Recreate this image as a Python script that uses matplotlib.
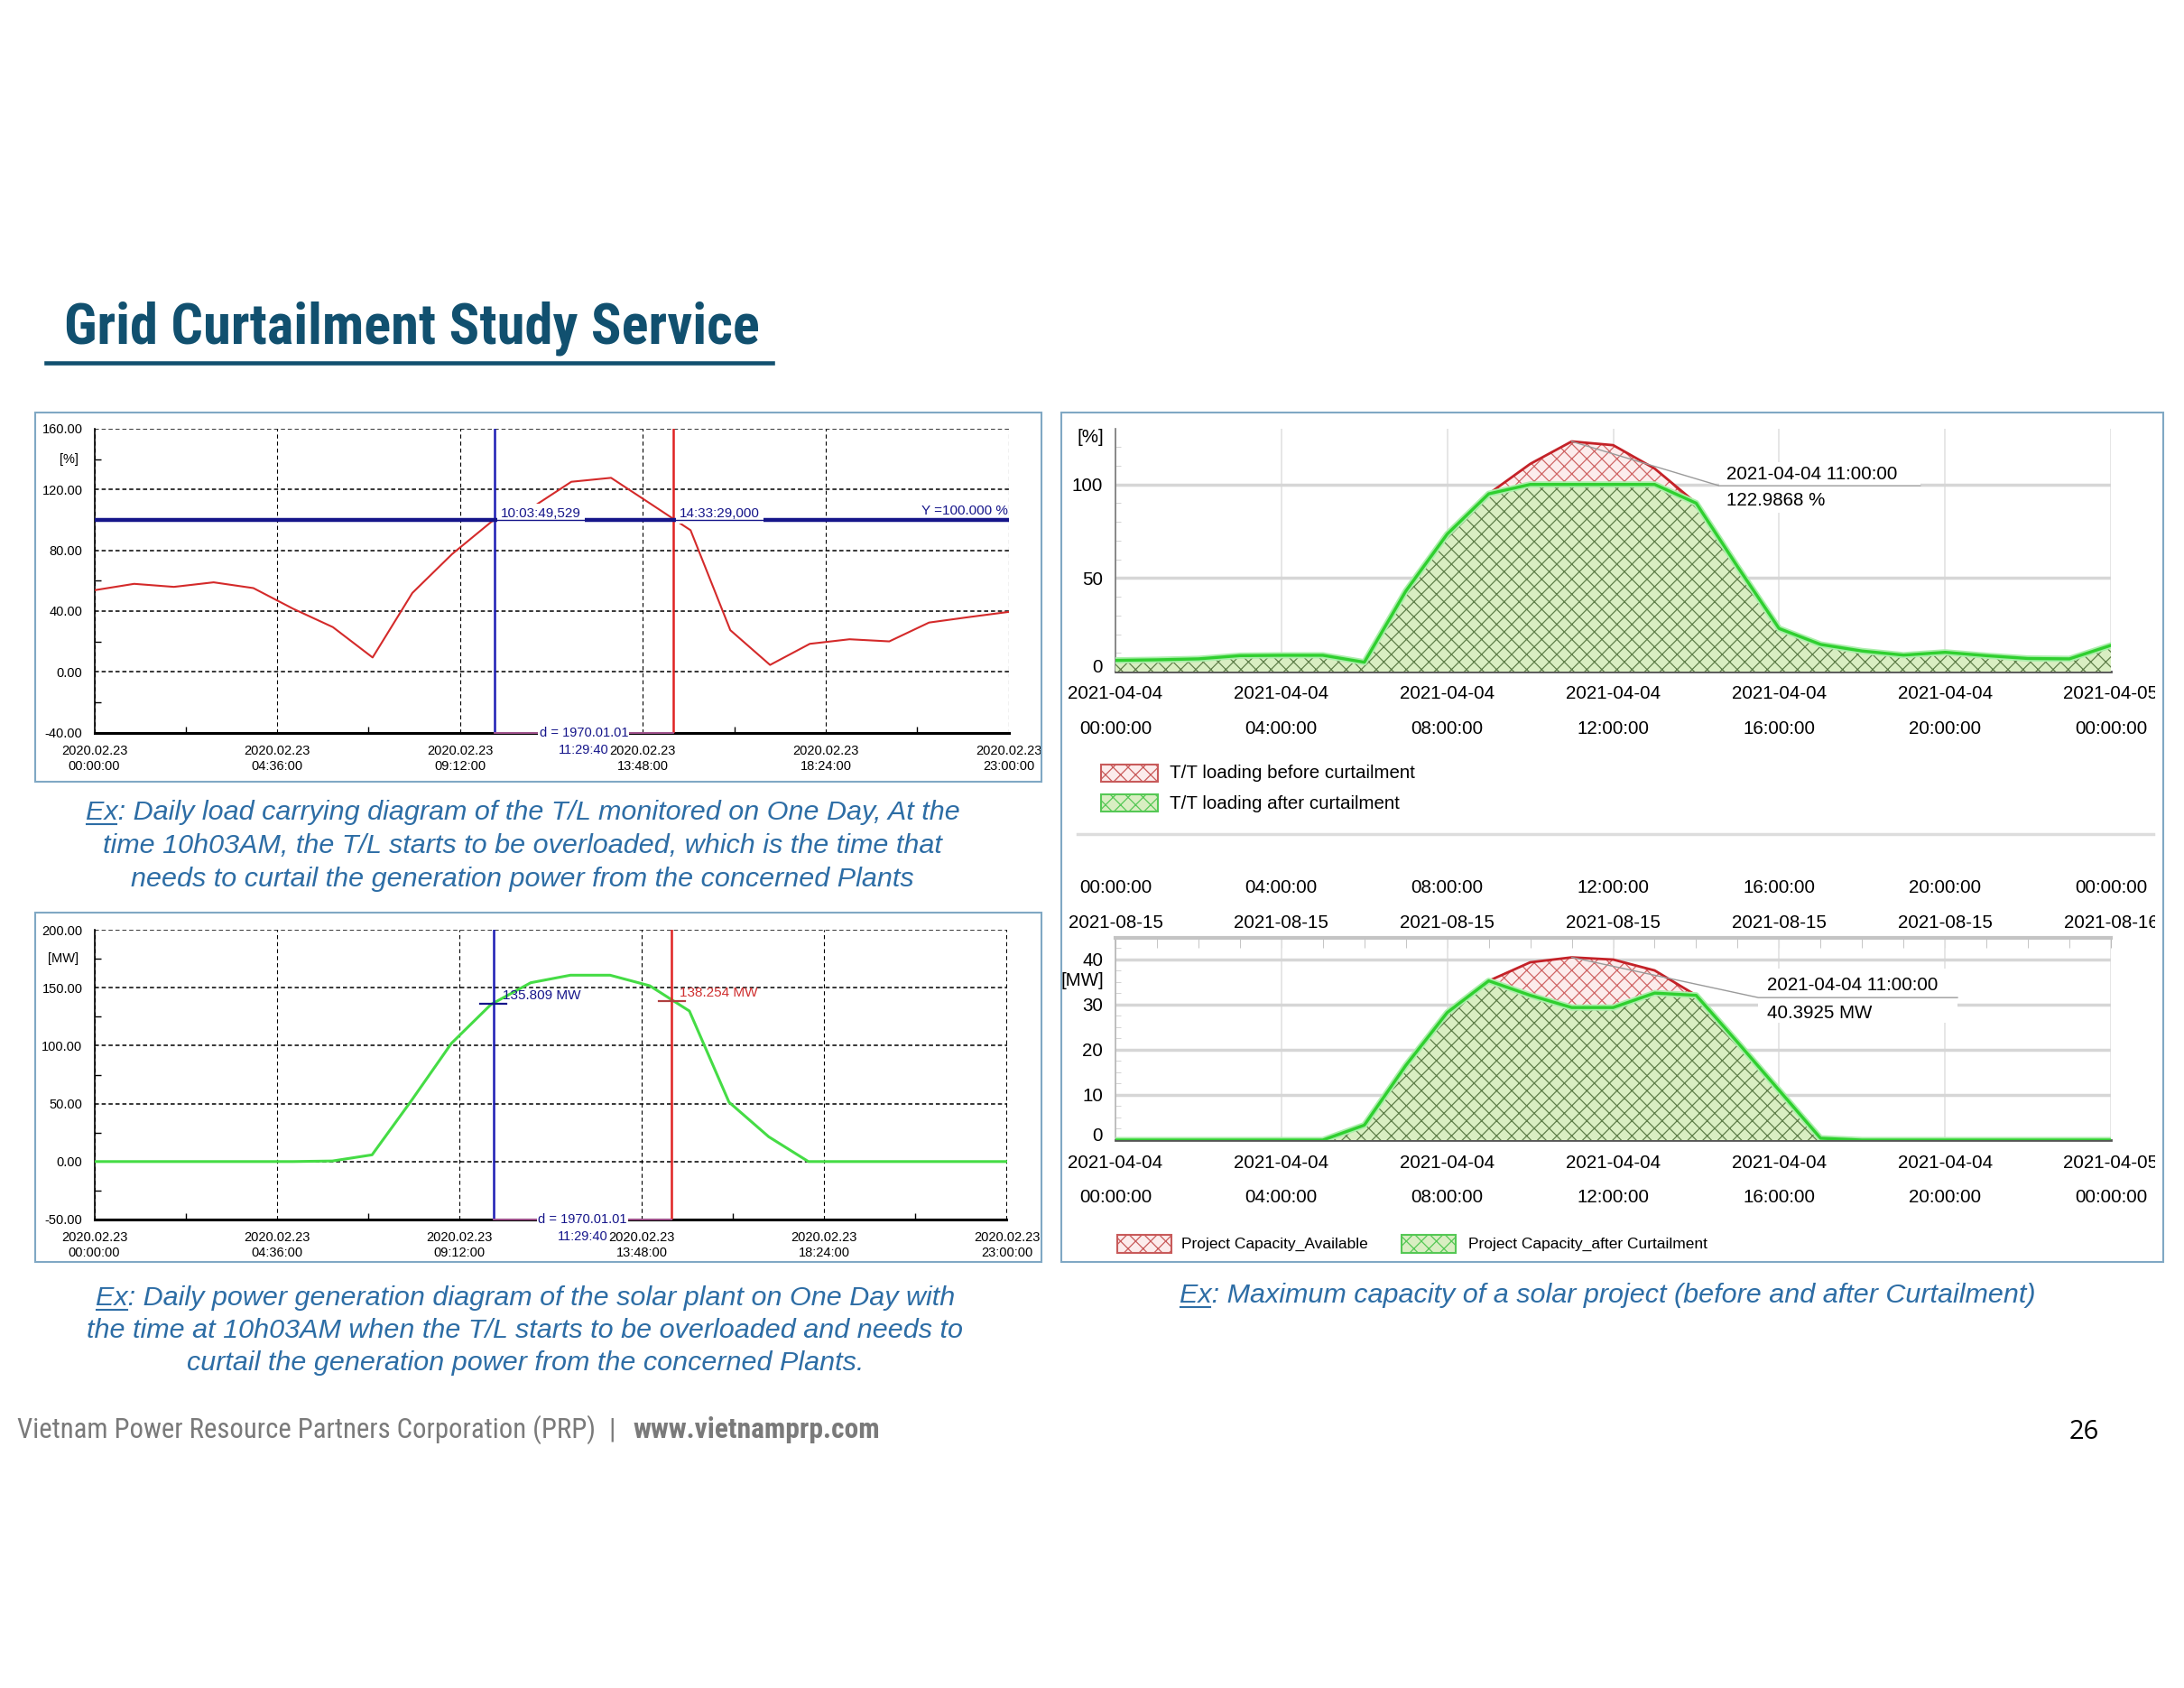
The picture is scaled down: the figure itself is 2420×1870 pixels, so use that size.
import matplotlib
matplotlib.use('Agg')
import matplotlib.pyplot as plt
import matplotlib.transforms as mtransforms
from matplotlib import font_manager
from matplotlib.lines import Line2D
from matplotlib.patches import Rectangle

W, H, DPI = 2420, 1870, 100

plt.rcParams['font.family'] = ['Liberation Sans', 'DejaVu Sans']
plt.rcParams['hatch.linewidth'] = 0.9

# pick a condensed sans for the title / footer if one is installed
NARROW = None
for f in font_manager.fontManager.ttflist:
    st = str(f.stretch)
    if f.name in ('Liberation Sans Narrow', 'Roboto Condensed', 'Open Sans Condensed',
                  'Noto Sans Condensed'):
        NARROW = dict(family=[f.name, 'Liberation Sans'])
        break
    if f.name in ('Noto Sans', 'DejaVu Sans', 'Open Sans', 'Roboto') and 'condensed' in st:
        NARROW = dict(family=[f.name, 'Liberation Sans'], fontstretch='condensed')
if NARROW is None:
    NARROW = dict(family=['Liberation Sans'])

# ---------------- data ----------------
# T/L loading on 2020-02-23, hourly [%]
tl_hours = list(range(24))
tl_loading = [53.7, 57.9, 55.9, 58.9, 55.1, 41.5, 29.4, 9.4, 51.9, 77.5, 99.0, 108.0,
              125.1, 127.7, 110.5, 93.2, 27.4, 4.5, 18.4, 21.4, 20.0, 32.4, 36.0, 39.4]

# solar plant generation on 2020-02-23, hourly [MW]
pv_hours = list(range(24))
pv_output = [0, 0, 0, 0, 0, 0, 0.5, 5.8, 53.0, 102.0, 135.6, 154.3,
             160.8, 160.8, 151.7, 129.9, 51.2, 21.4, 0, 0, 0, 0, 0, 0]

left_xticks = [0, 4.6, 9.2, 13.8, 18.4, 23.0]
left_xlabels = ['2020.02.23\n00:00:00', '2020.02.23\n04:36:00', '2020.02.23\n09:12:00',
                '2020.02.23\n13:48:00', '2020.02.23\n18:24:00', '2020.02.23\n23:00:00']
cursor_start = 10 + 3 / 60 + 49.529 / 3600   # 10:03:49,529
cursor_end = 14 + 33 / 60 + 29 / 3600        # 14:33:29,000
pv_at_start, pv_at_end = 135.809, 138.254
overload_limit = 100

# T/T loading on 2021-04-04, hourly [%]
day_hours = list(range(25))
tt_before = [6.0, 6.3, 6.8, 8.5, 8.7, 8.7, 5.0, 43.0, 73.5, 95.0, 111.0, 122.9868, 121.0,
             108.5, 90.0, 56.0, 23.0, 14.5, 11.0, 8.8, 10.3, 8.5, 7.0, 6.8, 14.0]
tt_after = [6.0, 6.3, 6.8, 8.5, 8.7, 8.7, 5.0, 43.0, 73.5, 95.0, 100.0, 100.0, 100.0,
            100.0, 90.0, 56.0, 23.0, 14.5, 11.0, 8.8, 10.3, 8.5, 7.0, 6.8, 14.0]

# project capacity, hourly [MW]
cap_available = [0, 0, 0, 0, 0, 0, 3.3, 16.5, 28.2, 35.2, 39.3, 40.3925, 39.9,
                 37.5, 32.0, 21.6, 11.0, 0.4, 0, 0, 0, 0, 0, 0, 0]
cap_after = [0, 0, 0, 0, 0, 0, 3.3, 16.5, 28.2, 35.2, 32.0, 29.3, 29.3,
             32.5, 32.0, 21.6, 11.0, 0.4, 0, 0, 0, 0, 0, 0, 0]

right_xticks = [0, 4, 8, 12, 16, 20, 24]
right_times = ['00:00:00', '04:00:00', '08:00:00', '12:00:00', '16:00:00', '20:00:00', '00:00:00']
apr_dates = ['2021-04-04'] * 6 + ['2021-04-05']
aug_dates = ['2021-08-15'] * 6 + ['2021-08-16']

# ---------------- styles ----------------
NAVY = '#15158a'
CUR_BLUE = '#1c1cb4'
CUR_RED = '#e02222'
LOAD_RED = '#d42a2a'
PV_GREEN = '#45dc45'
CAPTION = '#2d6da5'
TITLE = '#11506f'
BOX = '#80a8c4'
GRAY_TXT = '#7a7a7a'
RED_FACE, RED_HATCH = '#fcecec', '#cf6565'
GRN_FACE, GRN_HATCH = '#d9eec2', '#5f7f4a'

fig = plt.figure(figsize=(W / DPI, H / DPI), dpi=DPI)
fig.patch.set_facecolor('white')
renderer = fig.canvas.get_renderer()


def px_rect(x0, y0, x1, y1):
    return [x0 / W, 1 - y1 / H, (x1 - x0) / W, (y1 - y0) / H]


def ftext(x, y, s, **kw):
    return fig.text(x / W, 1 - y / H, s, **kw)


def fit_text(x, y, s, width, **kw):
    # size the text so that it spans the given pixel width
    t = ftext(x, y, s, fontsize=20, **kw)
    w = t.get_window_extent(renderer).width
    t.set_fontsize(20 * width / w)
    return t


def fline(xs, ys, **kw):
    fig.add_artist(Line2D([x / W for x in xs], [1 - y / H for y in ys],
                          transform=fig.transFigure, **kw))


def fbox(x0, y0, x1, y1, add=True, **kw):
    r = Rectangle((x0 / W, 1 - y1 / H), (x1 - x0) / W, (y1 - y0) / H,
                  transform=fig.transFigure, **kw)
    if add:
        fig.add_artist(r)
    return r


def shift_label(lab, dy_pt):
    lab.set_transform(lab.get_transform() +
                      mtransforms.ScaledTranslation(0, dy_pt / 72, fig.dpi_scale_trans))


def left_chart(rect, hours, values, color, lw, ylo, yhi, step, unit):
    ax = fig.add_axes(px_rect(*rect))
    ax.set_xlim(0, 23)
    ax.set_ylim(ylo, yhi)
    yt = list(range(ylo, yhi + 1, step))
    ax.set_yticks(yt, [f'{v:.2f}' for v in yt])
    ax.set_yticks([v + step / 2 for v in yt[:-1]], minor=True)
    ax.set_xticks(left_xticks, left_xlabels)
    ax.set_xticks([(a + b) / 2 for a, b in zip(left_xticks[:-1], left_xticks[1:])], minor=True)
    ax.grid(True, axis='x', which='major', color='black', linestyle=(0, (4, 3)), lw=0.8)
    ax.grid(True, axis='y', which='major', color='black', linestyle=(0, (3, 2)), lw=1.1)
    for s in ('top', 'right'):
        ax.spines[s].set_visible(False)
    ax.spines['left'].set_linewidth(1.2)
    ax.spines['bottom'].set_linewidth(2.2)
    ax.tick_params(which='major', length=0, labelsize=10.5, pad=9.5)
    ax.tick_params(which='minor', length=5, direction='in', width=1)
    for lab in ax.get_xticklabels():
        lab.set_linespacing(1.3)
    ax.plot(hours, values, color=color, lw=lw, zorder=3, solid_joinstyle='round')
    ax.axvline(cursor_start, color=CUR_BLUE, lw=1.8, zorder=4)
    ax.axvline(cursor_end, color=CUR_RED, lw=1.8, zorder=4)
    # distance strip between the cursors on the time axis
    ax.plot([cursor_start, cursor_end], [ylo, ylo], color='#b05a9a', lw=1.3,
            zorder=6, clip_on=False)
    ax.text((cursor_start + cursor_end) / 2, ylo, 'd = 1970.01.01', ha='center', va='center',
            color=NAVY, fontsize=10.5, zorder=7, clip_on=False,
            bbox=dict(fc='white', ec='none', pad=1))
    ax.annotate('11:29:40', xy=(12.95, ylo), xytext=(0, -14), textcoords='offset points',
                ha='right', va='center', color=NAVY, fontsize=10.5, annotation_clip=False)
    ax.annotate(unit, xy=(0, yhi - step / 2), xytext=(-13, 0), textcoords='offset points',
                ha='right', va='center', fontsize=10.5)
    return ax


def right_chart(rect, before, after, yhi, yticks, minor_step, clip, left_color):
    ax = fig.add_axes(px_rect(*rect))
    ax.set_xlim(0, 24)
    ax.set_ylim(0, yhi)
    ax.fill_between(day_hours, 0, before, facecolor=RED_FACE, edgecolor=RED_HATCH,
                    hatch='xx', lw=0, zorder=2)
    ax.fill_between(day_hours, 0, after, facecolor=GRN_FACE, edgecolor=GRN_HATCH,
                    hatch='xx', lw=0, zorder=3)
    ax.plot(day_hours, before, color='#c42228', lw=2, zorder=4)
    ax.plot(day_hours, after, color='#aaeeaa', lw=5, zorder=5)
    ax.plot(day_hours, after, color='#2fcf2f', lw=2.4, zorder=6)
    ax.set_xticks(right_xticks, [f'{d}\n{t}' for d, t in zip(apr_dates, right_times)])
    ax.set_yticks(yticks, [str(v) for v in yticks])
    minors = []
    v = minor_step
    while v < yhi:
        minors.append(v)
        v += minor_step
    ax.set_yticks(minors, minor=True)
    ax.grid(True, axis='x', which='major', color='#e4e4e4', lw=1.3)
    ax.grid(True, axis='y', which='major', color='#d6d6d6', lw=2.5)
    for s in ('top', 'right'):
        ax.spines[s].set_visible(False)
    ax.spines['left'].set_color(left_color)
    ax.spines['left'].set_linewidth(1.2)
    ax.spines['bottom'].set_color('#555555')
    ax.spines['bottom'].set_linewidth(2)
    ax.tick_params(which='major', length=0, labelsize=14.8)
    ax.tick_params(axis='y', which='major', pad=10)
    ax.tick_params(which='minor', length=4, direction='in', color='#cccccc')
    for lab in ax.get_xticklabels():
        lab.set_linespacing(2.3)
        lab.set_clip_path(clip)
    shift_label(ax.get_yticklabels()[0], 5)
    return ax


# ---------------- title ----------------
fit_text(71, 381, 'Grid Curtailment Study Service', 768, fontweight='bold', color=TITLE,
         va='baseline', **NARROW)
fline([51, 856], [402, 402], color=TITLE, lw=3.3)

# ---------------- panel frames ----------------
fbox(39, 457, 1154, 866, fill=False, ec=BOX, lw=1.5)
fbox(39, 1011, 1154, 1398, fill=False, ec=BOX, lw=1.5)
fbox(1176, 457, 2397, 1398, fill=False, ec=BOX, lw=1.5)
right_clip = fbox(1177, 458, 2388, 1397, add=False)
fline([1194, 2386], [924, 924], color='#dddddd', lw=2.5)

# ---------------- T/L loading ----------------
ax1 = left_chart((104.6, 475, 1117.5, 811.5), tl_hours, tl_loading, LOAD_RED, 1.5,
                 -40, 160, 40, '[%]')
ax1.axhline(overload_limit, color=NAVY, lw=3.2, zorder=4)
for xc, lbl in ((cursor_start, '10:03:49,529'), (cursor_end, '14:33:29,000')):
    ax1.text(xc + 0.17, overload_limit, lbl, ha='left', va='bottom', fontsize=11, color=NAVY,
             zorder=5, bbox=dict(fc='white', ec='none', pad=3))
ax1.axhline(overload_limit, color=NAVY, lw=1, zorder=6)
ax1.text(22.98, overload_limit + 1.5, 'Y =100.000 %', ha='right', va='bottom', fontsize=11,
         color=NAVY, zorder=6)

# ---------------- solar generation ----------------
ax2 = left_chart((104.6, 1030, 1115.5, 1351), pv_hours, pv_output, PV_GREEN, 2.2,
                 -50, 200, 50, '[MW]')
ax2.plot([cursor_start - 0.33, cursor_start + 0.33], [pv_at_start] * 2, color=NAVY, lw=1.6, zorder=5)
ax2.plot([cursor_end - 0.33, cursor_end + 0.33], [pv_at_end] * 2, color='#b04040', lw=1.6, zorder=5)
ax2.text(cursor_start + 0.22, pv_at_start + 7.5, f'{pv_at_start:.3f} MW', ha='left', va='center',
         fontsize=11, color=NAVY, zorder=6)
ax2.text(cursor_end + 0.2, pv_at_end + 7.3, f'{pv_at_end:.3f} MW', ha='left', va='center',
         fontsize=11, color='#d03030', zorder=6)

# ---------------- T/T loading before / after ----------------
ax3 = right_chart((1236, 474.5, 2339, 744), tt_before, tt_after, 130, [0, 50, 100], 10,
                  right_clip, '#777777')
ax3.tick_params(axis='x', which='major', pad=10.8)
ax3.add_patch(Rectangle((14.56, 85), 4.84, 27, facecolor='white', edgecolor='none', zorder=1.6))
ax3.plot([11, 14.56, 19.4], [tt_before[11], 99.3, 99.3], color='#9a9a9a', lw=1, zorder=8)
ax3.text(14.73, 105.2, '2021-04-04 11:00:00', va='center', fontsize=14.8, zorder=9)
ax3.text(14.73, 91.2, f'{tt_before[11]:.4f} %', va='center', fontsize=14.8, zorder=9)
ftext(1223, 485, '[%]', ha='right', va='center', fontsize=14.8)

fbox(1220, 847, 1283, 866, facecolor=RED_FACE, edgecolor='#c85a5a', hatch='xx', lw=1.5)
fbox(1220, 880, 1283, 899, facecolor=GRN_FACE, edgecolor='#55c855', hatch='xx', lw=1.5)
ftext(1296, 857, 'T/T loading before curtailment', va='center', fontsize=14.8)
ftext(1296, 890, 'T/T loading after curtailment', va='center', fontsize=14.8)

# ---------------- project capacity ----------------
ax4 = right_chart((1236, 1039, 2339, 1263), cap_available, cap_after, 44.7,
                  [0, 10, 20, 30, 40], 2.5, right_clip, '#b5b5b5')
ax4.tick_params(axis='x', which='major', pad=11.5)
ax4.spines['top'].set_visible(True)
ax4.spines['top'].set_color('#c4c4c4')
ax4.spines['top'].set_linewidth(3)
top = ax4.secondary_xaxis('top')
top.set_xticks(right_xticks, [f'{t}\n{d}' for t, d in zip(right_times, aug_dates)])
top.set_xticks(list(range(1, 24)), minor=True)
top.tick_params(which='major', length=8, direction='in', color='#bbbbbb', labelsize=14.8, pad=5.3)
top.tick_params(which='minor', length=8, direction='in', color='#bbbbbb')
top.spines['top'].set_visible(False)
for lab in top.get_xticklabels():
    lab.set_linespacing(2.3)
    lab.set_clip_path(right_clip)
ax4.add_patch(Rectangle((15.5, 26), 4.8, 12, facecolor='white', edgecolor='none', zorder=1.6))
ax4.plot([11, 15.5, 20.3], [cap_available[11], 31.5, 31.5], color='#9a9a9a', lw=1, zorder=8)
ax4.text(15.7, 34.3, '2021-04-04 11:00:00', va='center', fontsize=14.8, zorder=9)
ax4.text(15.7, 28.1, f'{cap_available[11]:.4f} MW', va='center', fontsize=14.8, zorder=9)
ftext(1223, 1087, '[MW]', ha='right', va='center', fontsize=14.8)

fbox(1238, 1368, 1298, 1388, facecolor=RED_FACE, edgecolor='#c85a5a', hatch='xx', lw=1.5)
fbox(1553, 1368, 1613, 1388, facecolor=GRN_FACE, edgecolor='#55c855', hatch='xx', lw=1.5)
ftext(1309, 1378, 'Project Capacity_Available', va='center', fontsize=12.5)
ftext(1627, 1378, 'Project Capacity_after Curtailment', va='center', fontsize=12.5)

# ---------------- captions ----------------
cap_line1 = 'Ex: Daily load carrying diagram of the T/L monitored on One Day, At the'
probe = fit_text(0, 0, cap_line1, 965, style='italic')
cap_size = probe.get_fontsize()
probe.remove()
cap_kw = dict(fontsize=cap_size, style='italic', color=CAPTION, ha='center', va='center')


def caption(cx, ys, lines):
    for i, (y, line) in enumerate(zip(ys, lines)):
        t = ftext(cx, y, line, **cap_kw)
        if i == 0:
            bb = t.get_window_extent(renderer)
            tmp = ftext(0, 0, 'Ex', **cap_kw)
            ew = tmp.get_window_extent(renderer).width
            tmp.remove()
            yline = H - bb.y0 - 1
            fline([bb.x0 + 1, bb.x0 + ew - 1], [yline, yline], color=CAPTION, lw=1.5)


caption(579, [900, 937, 974], [
    cap_line1,
    'time 10h03AM, the T/L starts to be overloaded, which is the time that',
    'needs to curtail the generation power from the concerned Plants'])
caption(582, [1438, 1474, 1510], [
    'Ex: Daily power generation diagram of the solar plant on One Day with',
    'the time at 10h03AM when the T/L starts to be overloaded and needs to',
    'curtail the generation power from the concerned Plants.'])
caption(1781, [1435], ['Ex: Maximum capacity of a solar project (before and after Curtailment)'])

# ---------------- footer ----------------
foot = fit_text(19, 1584, 'Vietnam Power Resource Partners Corporation (PRP)', 639,
                color=GRAY_TXT, va='center', **NARROW)
fsz = foot.get_fontsize()
ftext(678, 1584, '|', fontsize=fsz, color=GRAY_TXT, va='center', ha='center', **NARROW)
fit_text(701, 1584, 'www.vietnamprp.com', 273, fontweight='bold', color=GRAY_TXT,
         va='center', **NARROW)
ftext(2309, 1587, '26', family=['Open Sans', 'DejaVu Sans'], fontsize=21, color='black',
      ha='center', va='center')

fig.savefig('out.png', dpi=DPI, facecolor='white')
